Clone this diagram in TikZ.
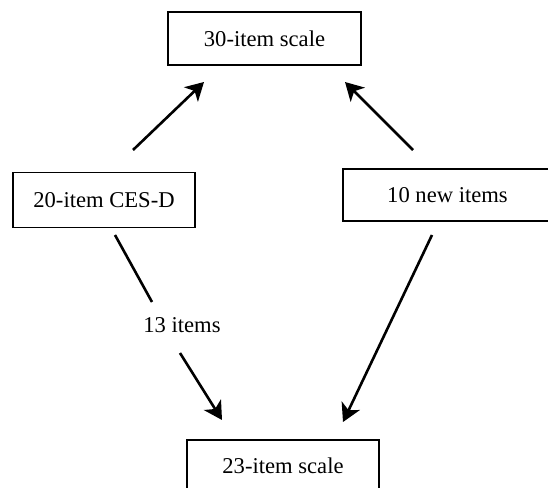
\documentclass[tikz,border=0pt]{standalone}
\usepackage{fontspec}
\setmainfont{Liberation Serif}
\usetikzlibrary{arrows.meta}
\begin{document}
\begin{tikzpicture}[x=1pt,y=-1pt,
  txt/.style={font=\fontsize{22.6}{27}\selectfont},
  box/.style={txt, draw, line width=1.6pt, inner sep=0pt},
  arr/.style={line width=2.6pt, -{Stealth[length=18pt,width=20pt,inset=5pt]}},
  ln/.style={line width=2.6pt}]
\useasboundingbox (0,0) rectangle (548,487);
\clip (0,0) rectangle (548,487);
\node[box, minimum width=193pt, minimum height=53pt] (A) at (264.5,38.5) {30-item scale};
\node[box, minimum width=182pt, minimum height=55pt] (B) at (104,200) {20-item CES-D};
\node[box, minimum width=209pt, minimum height=52pt] (C) at (447.5,195) {10 new items};
\node[box, minimum width=192pt, minimum height=52pt, anchor=north] (D) at (283,439) {23-item scale};
\node[txt] (L) at (182,325) {13 items};
\coordinate (a1s) at (133,150);
\coordinate (a1e) at (204,82);
\coordinate (a2s) at (413,150);
\coordinate (a2e) at (345,82);
\coordinate (l1s) at (115,235);
\coordinate (l1e) at (152,302);
\coordinate (a3s) at (180,353);
\coordinate (a3e) at (222,420);
\coordinate (a4s) at (432,235);
\coordinate (a4e) at (343,422);
\draw[arr] (a1s) -- (a1e);
\draw[arr] (a2s) -- (a2e);
\draw[ln] (l1s) -- (l1e);
\draw[arr] (a3s) -- (a3e);
\draw[arr] (a4s) -- (a4e);
\end{tikzpicture}
\end{document}
